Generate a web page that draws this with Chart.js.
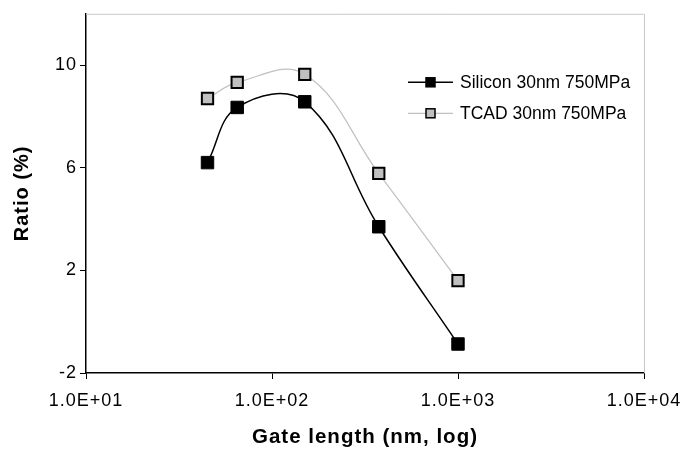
<!DOCTYPE html>
<html>
<head>
<meta charset="utf-8">
<script src="https://cdn.jsdelivr.net/npm/chart.js@4.4.1/dist/chart.umd.min.js"></script>
<style>
  html, body { margin: 0; padding: 0; background: #fff; }
  #wrap { width: 685px; height: 450px; position: relative; }
</style>
</head>
<body>
<div id="wrap"><canvas id="ratioChart"></canvas></div>
<script>
// Gate length (nm) and ratio (%)
const gateLength = [45, 65, 150, 375, 1000];
const siliconRatio = [6.2, 8.35, 8.57, 3.7, -0.87];
const tcadRatio = [8.7, 9.33, 9.64, 5.78, 1.6];
const xTicks = [10, 100, 1000, 10000];
const yTicks = [-2, 2, 6, 10];
const seriesNames = ['Silicon 30nm 750MPa', 'TCAD 30nm 750MPa'];

const FONT = 'Liberation Sans, Arial, sans-serif';

function toPoints(ys) {
  return gateLength.map((x, i) => ({ x: x, y: ys[i] }));
}

function fmtExp(v) {
  const e = Math.round(Math.log10(v));
  return '1.0E+' + String(e).padStart(2, '0');
}

// the original text is a bit wider than Liberation Sans, so spread it a little
const spacingPlugin = {
  id: 'spacing',
  beforeDraw(chart) {
    chart.ctx.letterSpacing = '1px';
  }
};

// gray frame on top/right of the plot area
const framePlugin = {
  id: 'frame',
  beforeDatasetsDraw(chart) {
    const a = chart.chartArea;
    const c = chart.ctx;
    c.save();
    c.strokeStyle = '#c8c8c8';
    c.lineWidth = 1;
    c.beginPath();
    c.moveTo(a.left, a.top + 0.5);
    c.lineTo(a.right + 0.5, a.top + 0.5);
    c.lineTo(a.right + 0.5, a.bottom);
    c.stroke();
    c.restore();
  }
};

// legend drawn as line + marker + text, like the original
const legendPlugin = {
  id: 'lineLegend',
  afterDraw(chart) {
    const c = chart.ctx;
    const a = chart.chartArea;
    const x0 = a.left + 322;
    const rows = [a.top + 68, a.top + 99];
    c.save();
    c.letterSpacing = '0px';
    chart.data.datasets.forEach((ds, i) => {
      const y = rows[i];
      c.strokeStyle = ds.borderColor;
      c.lineWidth = ds.borderWidth;
      c.beginPath();
      c.moveTo(x0, y + 0.5);
      c.lineTo(x0 + 45, y + 0.5);
      c.stroke();
      c.fillStyle = ds.pointBackgroundColor;
      c.strokeStyle = '#000';
      c.lineWidth = 1.5;
      c.fillRect(x0 + 18, y - 4, 9, 9);
      c.strokeRect(x0 + 18, y - 4, 9, 9);
      c.fillStyle = '#000';
      c.font = '17.5px ' + FONT;
      c.textBaseline = 'middle';
      c.fillText(ds.label, x0 + 52, y + 1);
    });
    c.restore();
  }
};

const ctx = document.getElementById('ratioChart').getContext('2d');
const ratioChart = new Chart(ctx, {
  type: 'line',
  data: {
    datasets: [
      {
        label: seriesNames[0],
        data: toPoints(siliconRatio),
        borderColor: '#000000',
        borderWidth: 1.5,
        pointStyle: 'rect',
        pointRadius: 8.8,
        pointBackgroundColor: '#000000',
        pointBorderColor: '#000000',
        pointBorderWidth: 1,
        tension: 0.4,
        order: 1
      },
      {
        label: seriesNames[1],
        data: toPoints(tcadRatio),
        borderColor: '#c0c0c0',
        borderWidth: 1.2,
        pointStyle: 'rect',
        pointRadius: 8,
        pointBackgroundColor: '#c0c0c0',
        pointBorderColor: '#000000',
        pointBorderWidth: 2,
        tension: 0.4,
        order: 2
      }
    ]
  },
  options: {
    responsive: true,
    maintainAspectRatio: false,
    animation: false,
    layout: { padding: { left: 0, top: 12, right: 41, bottom: 0 } },
    plugins: {
      legend: { display: false },
      tooltip: { enabled: false }
    },
    scales: {
      x: {
        type: 'logarithmic',
        min: 10,
        max: 10000,
        afterBuildTicks: (scale) => { scale.ticks = xTicks.map(v => ({ value: v })); },
        afterFit: (scale) => {
          scale.height = 77;
          // let the end labels hang over the edges instead of shrinking the plot
          scale.paddingLeft = 0;
          scale.paddingRight = 0;
        },
        border: { color: '#000', width: 1.5 },
        grid: { drawOnChartArea: false, drawTicks: true, tickLength: 6, color: '#000' },
        ticks: {
          autoSkip: false,
          maxRotation: 0,
          padding: 11,
          color: '#000',
          font: { family: FONT, size: 18 },
          callback: (v) => fmtExp(v)
        },
        title: {
          display: true,
          text: 'Gate length (nm, log)',
          color: '#000',
          font: { family: FONT, size: 20.5, weight: 'bold' },
          padding: { top: 0, bottom: 0 }
        }
      },
      y: {
        min: -2,
        max: 12,
        afterBuildTicks: (scale) => { scale.ticks = yTicks.map(v => ({ value: v })); },
        afterFit: (scale) => { scale.width = 86; },
        border: { color: '#000', width: 1.5 },
        grid: { drawOnChartArea: false, drawTicks: true, tickLength: 6, color: '#000' },
        ticks: {
          padding: 3,
          color: '#000',
          font: { family: FONT, size: 18 }
        },
        title: {
          display: true,
          text: 'Ratio (%)',
          color: '#000',
          font: { family: FONT, size: 20, weight: 'bold' },
          padding: { top: 10, bottom: 0 }
        }
      }
    }
  },
  plugins: [spacingPlugin, framePlugin, legendPlugin]
});
</script>
</body>
</html>
